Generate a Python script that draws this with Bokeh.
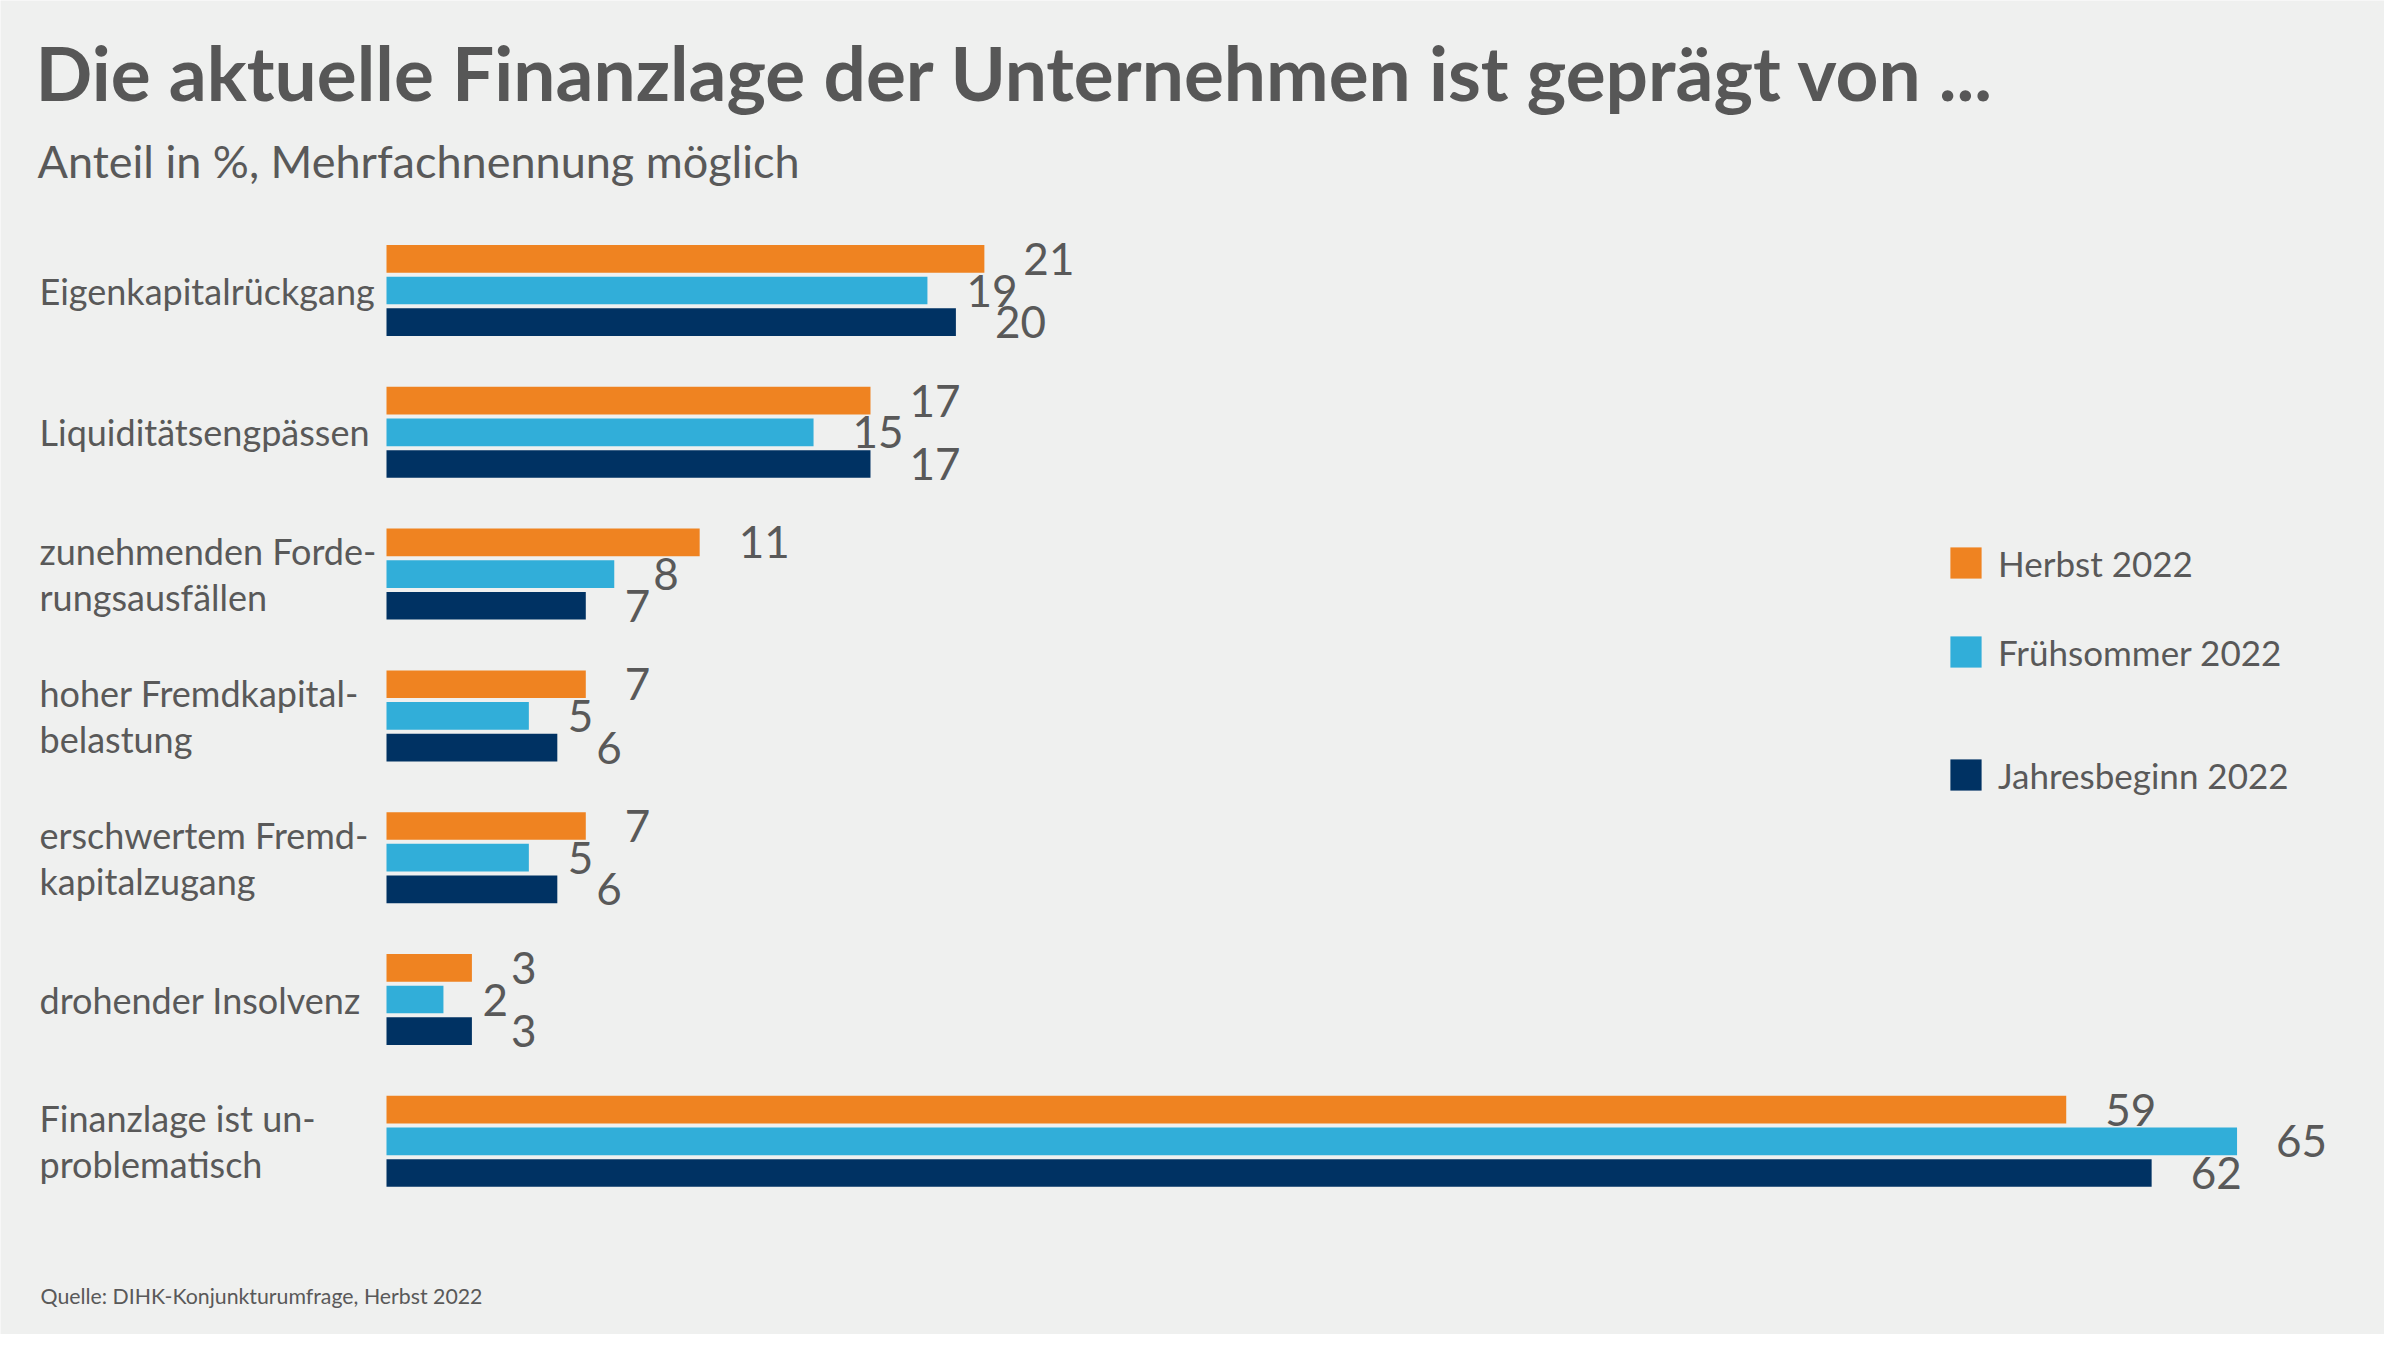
from bokeh.plotting import figure
from bokeh.models import ColumnDataSource, Range1d, Label, Legend, LegendItem
from bokeh.core.properties import value
from bokeh.embed import file_html
from bokeh.resources import INLINE

# ---------------- data ----------------
categories = [
    "Eigenkapitalrückgang",
    "Liquiditätsengpässen",
    "zunehmenden Forde-\nrungsausfällen",
    "hoher Fremdkapital-\nbelastung",
    "erschwertem Fremd-\nkapitalzugang",
    "drohender Insolvenz",
    "Finanzlage ist un-\nproblematisch",
]
series_names = ["Herbst 2022", "Frühsommer 2022", "Jahresbeginn 2022"]
herbst_2022 = [21, 17, 11, 7, 7, 3, 59]
fruehsommer_2022 = [19, 15, 8, 5, 5, 2, 65]
jahresbeginn_2022 = [20, 17, 7, 6, 6, 3, 62]

title_text = "Die aktuelle Finanzlage der Unternehmen ist geprägt von ..."
subtitle_text = "Anteil in %, Mehrfachnennung möglich"
source_text = "Quelle: DIHK-Konjunkturumfrage, Herbst 2022"

# ---------------- style ----------------
W, H = 2384, 1334
BG = "#eff0ef"
TXT = "#595959"
COLORS = ["#ef8321", "#31aed9", "#003263"]
FONT = "Lato"

PX_PER_UNIT = 28.47      # horizontal scale
BAR_LEFT_PX = 386        # screen x of value 0
GROUP_PX = 141.8         # vertical distance between groups
FIRST_GROUP_PX = 290     # screen y of first group's centre
BAR_H = 0.195
OFFSETS = [-0.2235, 0.0, 0.2235]

x_start = -BAR_LEFT_PX / PX_PER_UNIT
x_end = (W - BAR_LEFT_PX) / PX_PER_UNIT
y_top = -FIRST_GROUP_PX / GROUP_PX
y_bottom = (H - FIRST_GROUP_PX) / GROUP_PX

p = figure(width=W, height=H, output_backend="svg", toolbar_location=None,
           x_range=Range1d(x_start, x_end), y_range=Range1d(y_bottom, y_top),
           min_border=0, x_axis_location=None, y_axis_location=None)
p.background_fill_color = BG
p.border_fill_color = BG
p.outline_line_color = None
p.grid.visible = False

series = [herbst_2022, fruehsommer_2022, jahresbeginn_2022]
renderers = []
for k, (name, vals) in enumerate(zip(series_names, series)):
    ys = [i + OFFSETS[k] for i in range(len(categories))]
    src = ColumnDataSource(dict(y=ys, v=vals, lab=[str(v) for v in vals]))
    r = p.hbar(y="y", left=0, right="v", height=BAR_H, source=src,
               fill_color=COLORS[k], line_color=None)
    renderers.append(r)
    p.text(x="v", y="y", text="lab", source=src, x_offset=39,
           text_baseline="middle", text_align="left",
           text_font=value(FONT), text_font_size="44px", text_color=TXT)

# category labels
for i, cat in enumerate(categories):
    p.add_layout(Label(x=39, x_units="screen", y=i, y_units="data", text=cat,
                       text_font=FONT, text_font_size="36px", text_color=TXT,
                       text_baseline="middle", text_align="left",
                       text_line_height=1.04))

# titles
p.add_layout(Label(x=35, y=H - 71, x_units="screen", y_units="screen", text=title_text,
                   text_font=FONT, text_font_size="74.8px", text_font_style="bold",
                   text_color="#575757", text_baseline="alphabetic"))
p.add_layout(Label(x=37, y=H - 160, x_units="screen", y_units="screen", text=subtitle_text,
                   text_font=FONT, text_font_size="45px", text_color=TXT,
                   text_baseline="alphabetic"))
p.add_layout(Label(x=40, y=H - 1295, x_units="screen", y_units="screen", text=source_text,
                   text_font=FONT, text_font_size="21.3px", text_color=TXT,
                   text_baseline="alphabetic"))

# legend: one legend per entry to reproduce the uneven spacing
legend_bottoms = [H - 583.5, H - 672.5, H - 795.5]
for k in range(3):
    lg = Legend(items=[LegendItem(label=series_names[k], renderers=[renderers[k]])],
                location=(1946, legend_bottoms[k]), orientation="vertical",
                glyph_width=39, glyph_height=39, label_height=39, label_standoff=13,
                padding=0, margin=0, spacing=0, border_line_color=None,
                background_fill_alpha=0, label_text_font=FONT,
                label_text_font_size="35px", label_text_color=TXT)
    p.add_layout(lg)

open("out.html", "w").write(file_html(p, INLINE))
